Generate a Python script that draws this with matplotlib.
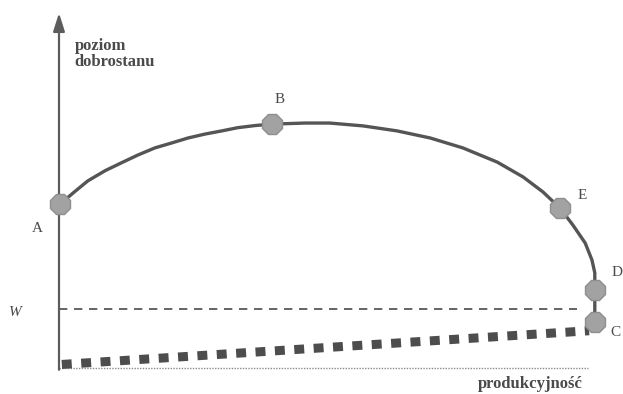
import numpy as np
import matplotlib.pyplot as plt

# welfare curve (x = productivity, y = welfare level)
curve_x = [0.02, 0.28, 0.51, 0.82, 1.12, 1.40, 1.70, 2.00, 2.29, 2.59, 2.89, 3.17, 3.48,
           3.78, 4.36, 4.80, 5.39, 5.99, 6.58, 7.16, 7.77, 8.23, 8.58, 8.88, 9.11, 9.33,
           9.45, 9.50, 9.50, 9.50]
curve_y = [4.62, 4.97, 5.27, 5.56, 5.79, 6.00, 6.20, 6.34, 6.48, 6.59, 6.68, 6.77, 6.83,
           6.87, 6.90, 6.90, 6.82, 6.68, 6.48, 6.20, 5.80, 5.38, 4.96, 4.51, 4.03, 3.52,
           3.04, 2.68, 2.20, 1.30]

# marked points
pt_names = ['A', 'B', 'E', 'D', 'C']
pt_x = [0.02, 3.78, 8.88, 9.50, 9.50]
pt_y = [4.62, 6.87, 4.51, 2.20, 1.30]

# threshold W and the lower (square dotted) line
w_level = 1.66
w_x = [0.0, 9.18]
low_x = [0.05, 9.40]
low_y = [0.10, 1.05]

fig = plt.figure(figsize=(6.23, 3.94), dpi=100)
ax = fig.add_axes([59 / 623, 26 / 394, 564 / 623, 355 / 394])
ax.set_xlim(0, 10)
ax.set_ylim(0, 10)
ax.axis('off')

serif = ['Liberation Serif', 'DejaVu Serif']
tc = '#4a4a4a'

# axes
ax.annotate('', xy=(0, 10), xytext=(0, -0.05),
            arrowprops=dict(arrowstyle='-|>,head_length=1.1,head_width=0.35',
                            color='#5c5c5c', lw=1.6, shrinkA=0, shrinkB=0),
            annotation_clip=False)
ax.plot([0, 9.38], [0, 0], color='#8a8a8a', lw=1.0, linestyle=(0, (1, 1)), clip_on=False)

# W level and the lower line
ax.plot(w_x, [w_level, w_level], color='#4a4a4a', lw=1.2, linestyle=(0, (5, 4)))
ax.plot(low_x, low_y, color='#4d4d4d', lw=6.5, linestyle=(0, (1.1, 1.05)),
        solid_capstyle='butt', dash_capstyle='butt', clip_on=False)

# curve and points
ax.plot(curve_x, curve_y, color='#555555', lw=2.4, solid_capstyle='round',
        solid_joinstyle='round', clip_on=False)
ax.plot(pt_x, pt_y, linestyle='none', marker='8', ms=15, color='#a2a2a2',
        markeredgecolor='#8f8f8f', clip_on=False, zorder=3)

# letters next to points
label_pos = {'A': (-0.39, 3.92), 'B': (3.92, 7.55), 'E': (9.27, 4.87),
             'D': (9.89, 2.70), 'C': (9.86, 1.01)}
for name in pt_names:
    lx, ly = label_pos[name]
    ax.text(lx, ly, name, family=serif, fontsize=11, color=tc,
            ha='center', va='center', clip_on=False)

ax.text(-0.78, 1.55, 'W', family=serif, style='italic', fontsize=11, color=tc,
        ha='center', va='center', clip_on=False)

ax.text(0.28, 8.96, 'poziom', family=serif, fontsize=12, fontweight='bold',
        color=tc, ha='left', va='baseline')
ax.text(0.28, 8.51, 'dobrostanu', family=serif, fontsize=12, fontweight='bold',
        color=tc, ha='left', va='baseline')
ax.text(7.43, -0.56, 'produkcyjność', family=serif, fontsize=12, fontweight='bold',
        color=tc, ha='left', va='baseline', clip_on=False)

fig.savefig('out.png', dpi=100, facecolor='white')
